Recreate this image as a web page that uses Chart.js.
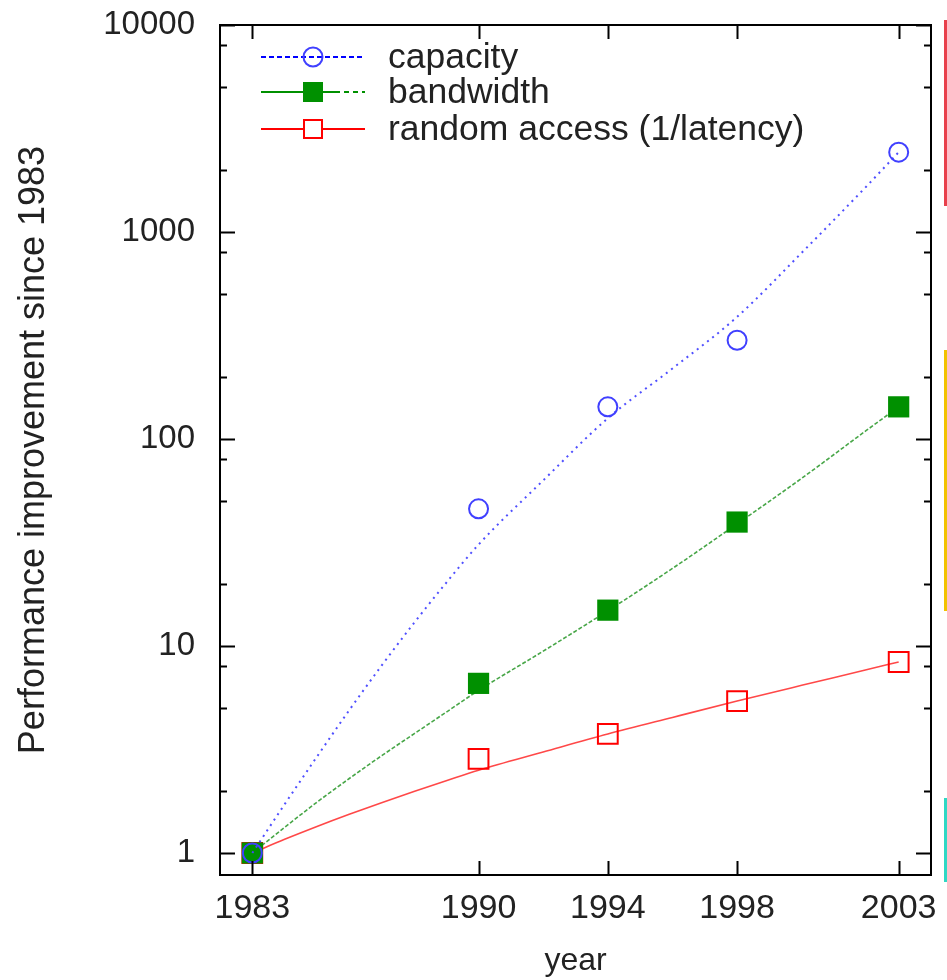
<!DOCTYPE html>
<html>
<head>
<meta charset="utf-8">
<script src="https://cdn.jsdelivr.net/npm/chart.js@4.4.1/dist/chart.umd.min.js"></script>
<style>
 html, body { margin: 0; padding: 0; background: #ffffff; }
 #wrap { width: 947px; height: 980px; }
</style>
</head>
<body>
<div id="wrap"><canvas id="perf-canvas" width="947" height="980"></canvas></div>
<script>
// measured points
var years = [1983, 1990, 1994, 1998, 2003];
var capacity = [1, 46, 143, 300, 2430];
var bandwidth = [1, 6.6, 14.9, 39.7, 143];
var randomAccess = [1, 2.85, 3.76, 5.42, 8.37];

// fitted curves
var fitYears = [1983, 1984, 1985, 1986, 1987, 1988, 1989, 1990, 1992, 1994, 1996, 1998, 2000, 2002, 2003];
var capacityFit = [1, 1.72, 2.92, 4.9, 8.04, 12.9, 20.2, 30.9, 63.1, 126, 219, 389, 794, 1660, 2430];
var bandwidthFit = [1, 1.33, 1.76, 2.29, 2.95, 3.76, 4.79, 6.1, 9.44, 14.8, 23.7, 38.9, 64.6, 110, 143];
var randomAccessFit = [1, 1.164, 1.343, 1.538, 1.75, 1.982, 2.234, 2.512, 3.076, 3.758, 4.519, 5.42, 6.457, 7.674, 8.375];

var seriesLabels = ["capacity", "bandwidth", "random access (1/latency)"];
var xTickValues = [1983, 1990, 1994, 1998, 2003];
var yMajorTicks = [1, 10, 100, 1000, 10000];
var yMinorTicks = [2, 5, 8, 20, 50, 80, 200, 500, 800, 2000, 5000, 8000];

var FONT = "'Liberation Sans', Arial, sans-serif";
var TEXT = "#222222";

function pairs(xs, ys) {
 return xs.map(function (x, i) {
  return { x: x, y: ys[i] };
 });
}

// box with inward ticks on all four sides, gnuplot style
var frameTicks = {
 id: "frameTicks",
 afterDatasetsDraw: function (chart) {
  var ctx = chart.ctx;
  var a = chart.chartArea;
  var xs = chart.scales.x;
  var ys = chart.scales.y;
  ctx.save();
  ctx.strokeStyle = "#000";
  ctx.lineWidth = 2;
  ctx.strokeRect(a.left, a.top, a.right - a.left, a.bottom - a.top);
  ctx.beginPath();
  xTickValues.forEach(function (v) {
   var px = Math.round(xs.getPixelForValue(v)) + 0.5;
   ctx.moveTo(px, a.bottom);
   ctx.lineTo(px, a.bottom - 14);
   ctx.moveTo(px, a.top);
   ctx.lineTo(px, a.top + 14);
  });
  yMajorTicks.forEach(function (v) {
   var py = Math.round(ys.getPixelForValue(v)) + 0.5;
   ctx.moveTo(a.left, py);
   ctx.lineTo(a.left + 15, py);
   ctx.moveTo(a.right, py);
   ctx.lineTo(a.right - 15, py);
  });
  yMinorTicks.forEach(function (v) {
   var py = Math.round(ys.getPixelForValue(v)) + 0.5;
   ctx.moveTo(a.left, py);
   ctx.lineTo(a.left + 7, py);
   ctx.moveTo(a.right, py);
   ctx.lineTo(a.right - 7, py);
  });
  ctx.stroke();
  ctx.restore();
 },
};

// key in the top left corner of the plot
var keyBox = {
 id: "keyBox",
 afterDraw: function (chart) {
  var ctx = chart.ctx;
  var x0 = 261, x1 = 365, xm = 313, xt = 388;
  var rows = [57, 92, 129];
  ctx.save();
  ctx.font = "35.5px " + FONT;
  ctx.fillStyle = TEXT;
  ctx.textBaseline = "middle";
  seriesLabels.forEach(function (label, i) {
   ctx.fillText(label, xt, rows[i] + 1);
  });

  // capacity
  ctx.strokeStyle = "#0000ff";
  ctx.lineWidth = 2;
  ctx.setLineDash([5, 3]);
  ctx.beginPath();
  ctx.moveTo(x0, rows[0]);
  ctx.lineTo(x1, rows[0]);
  ctx.stroke();
  ctx.setLineDash([]);
  ctx.strokeStyle = "#4040ff";
  ctx.beginPath();
  ctx.arc(xm, rows[0], 9.5, 0, Math.PI * 2);
  ctx.stroke();

  // bandwidth
  ctx.strokeStyle = "#009000";
  ctx.beginPath();
  ctx.moveTo(x0, rows[1]);
  ctx.lineTo(340, rows[1]);
  ctx.stroke();
  ctx.setLineDash([5, 4]);
  ctx.beginPath();
  ctx.moveTo(344, rows[1]);
  ctx.lineTo(x1, rows[1]);
  ctx.stroke();
  ctx.setLineDash([]);
  ctx.fillStyle = "#009000";
  ctx.fillRect(xm - 10, rows[1] - 10, 20, 20);

  // random access
  ctx.strokeStyle = "#ff0000";
  ctx.beginPath();
  ctx.moveTo(x0, rows[2]);
  ctx.lineTo(x1, rows[2]);
  ctx.stroke();
  ctx.fillStyle = "#ffffff";
  ctx.fillRect(xm - 9, rows[2] - 9, 18, 18);
  ctx.strokeRect(xm - 9, rows[2] - 9, 18, 18);
  ctx.restore();
 },
};

// slivers of the neighbouring boxes at the right edge
var edgeBars = {
 id: "edgeBars",
 afterDraw: function (chart) {
  var ctx = chart.ctx;
  ctx.save();
  ctx.fillStyle = "#e8404c";
  ctx.fillRect(944, 20, 3, 186);
  ctx.fillStyle = "#f2c200";
  ctx.fillRect(944, 350, 3, 261);
  ctx.fillStyle = "#2ed8c4";
  ctx.fillRect(944, 798, 3, 84);
  ctx.restore();
 },
};

var ctx = document.getElementById("perf-canvas");

// chart.js paints the first dataset last, so capacity sits on top
new Chart(ctx, {
 type: "line",
 data: {
  datasets: [
   {
    label: seriesLabels[0],
    data: pairs(years, capacity),
    showLine: false,
    pointStyle: "circle",
    pointRadius: 9.5,
    borderWidth: 2,
    borderColor: "#4040ff",
    backgroundColor: "rgba(255,255,255,0)",
   },
   {
    label: seriesLabels[0] + " fit",
    data: pairs(fitYears, capacityFit),
    borderColor: "rgba(70,70,255,0.95)",
    borderWidth: 2,
    borderDash: [2, 4.5],
    pointRadius: 0,
    cubicInterpolationMode: "monotone",
   },
   {
    label: seriesLabels[1],
    data: pairs(years, bandwidth),
    showLine: false,
    pointStyle: "rect",
    pointRadius: 15,
    borderWidth: 0,
    borderColor: "#009000",
    backgroundColor: "#009000",
   },
   {
    label: seriesLabels[1] + " fit",
    data: pairs(fitYears, bandwidthFit),
    borderColor: "rgba(40,150,40,0.85)",
    borderWidth: 1.6,
    borderDash: [4, 2],
    pointRadius: 0,
    cubicInterpolationMode: "monotone",
   },
   {
    label: seriesLabels[2],
    data: pairs(years, randomAccess),
    showLine: false,
    pointStyle: "rect",
    pointRadius: 14,
    borderWidth: 2,
    borderColor: "#ff0000",
    backgroundColor: "rgba(255,255,255,0)",
   },
   {
    label: seriesLabels[2] + " fit",
    data: pairs(fitYears, randomAccessFit),
    borderColor: "rgba(255,40,40,0.85)",
    borderWidth: 1.6,
    pointRadius: 0,
    cubicInterpolationMode: "monotone",
   },
  ],
 },
 options: {
  responsive: false,
  animation: false,
  devicePixelRatio: 1,
  layout: {
   padding: { top: 25, right: 15, bottom: 0, left: 0 },
  },
  plugins: {
   legend: { display: false },
   tooltip: { enabled: false },
  },
  scales: {
   x: {
    type: "linear",
    min: 1982,
    max: 2004,
    grid: { display: false, drawTicks: false },
    border: { display: false },
    afterBuildTicks: function (scale) {
     scale.ticks = xTickValues.map(function (v) {
      return { value: v };
     });
    },
    afterFit: function (scale) {
     scale.height = 105;
     scale.paddingLeft = 0;
     scale.paddingRight = 0;
    },
    ticks: {
     color: TEXT,
     font: { family: FONT, size: 34 },
     padding: 13,
     maxRotation: 0,
     autoSkip: false,
     callback: function (v) {
      return String(v);
     },
    },
    title: {
     display: true,
     text: "year",
     color: TEXT,
     font: { family: FONT, size: 32 },
     padding: { top: 0, bottom: 0 },
    },
   },
   y: {
    type: "logarithmic",
    min: 0.783,
    max: 10000,
    grid: { display: false, drawTicks: false },
    border: { display: false },
    afterBuildTicks: function (scale) {
     scale.ticks = yMajorTicks.map(function (v) {
      return { value: v };
     });
    },
    afterFit: function (scale) {
     scale.width = 220;
     scale.paddingTop = 0;
     scale.paddingBottom = 0;
    },
    ticks: {
     color: TEXT,
     font: { family: FONT, size: 33 },
     padding: 25,
     autoSkip: false,
     callback: function (v) {
      return String(v);
     },
    },
    title: {
     display: true,
     text: "Performance improvement since 1983",
     color: TEXT,
     font: { family: FONT, size: 36 },
     padding: { top: 12, bottom: 0 },
    },
   },
  },
 },
 plugins: [frameTicks, keyBox, edgeBars],
});
</script>
</body>
</html>
